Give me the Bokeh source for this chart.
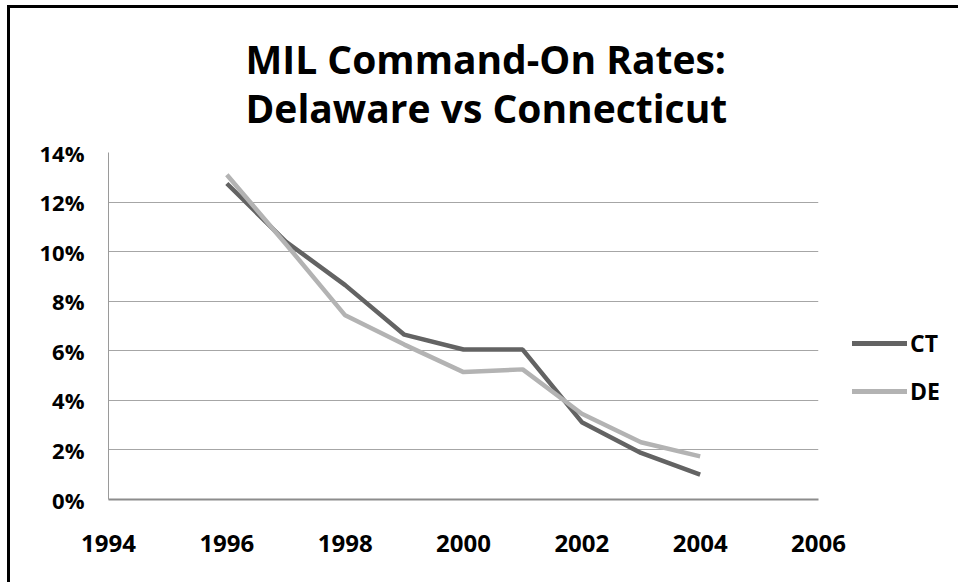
from bokeh.plotting import figure
from bokeh.layouts import row
from bokeh.models import (Range1d, FixedTicker, NumeralTickFormatter, Legend,
                          LegendItem, Title)
from bokeh.embed import file_html
from bokeh.resources import INLINE

# ---- data ----
years = [1996, 1997, 1998, 1999, 2000, 2001, 2002, 2003, 2004]
ct_rate = [0.1275, 0.1040, 0.0865, 0.0665, 0.0605, 0.0605, 0.0312, 0.0188, 0.0100]
de_rate = [0.1310, 0.1030, 0.0743, 0.0625, 0.0514, 0.0525, 0.0346, 0.0231, 0.0174]
x_ticks = [1994, 1996, 1998, 2000, 2002, 2004, 2006]
y_ticks = [0.0, 0.02, 0.04, 0.06, 0.08, 0.10, 0.12, 0.14]
title_text = "MIL Command-On Rates:\nDelaware vs Connecticut"
series_names = ["CT", "DE"]
series_values = [ct_rate, de_rate]
series_colors = ["#636363", "#b3b3b3"]

FONT = "Open Sans"

p = figure(width=838, height=574, output_backend="svg", toolbar_location=None,
           x_range=Range1d(1994, 2006), y_range=Range1d(0, 0.14),
           min_border_left=98, min_border_right=30, min_border_top=144,
           min_border_bottom=83)
p.outline_line_color = None
p.background_fill_color = "white"
p.border_fill_color = "white"

# axes
p.xaxis.ticker = FixedTicker(ticks=x_ticks)
p.yaxis.ticker = FixedTicker(ticks=y_ticks)
p.yaxis.formatter = NumeralTickFormatter(format="0%")
for ax in (p.xaxis, p.yaxis):
    ax.major_tick_line_color = None
    ax.minor_tick_line_color = None
    ax.major_label_text_font = FONT
    ax.major_label_text_font_style = "bold"
    ax.major_label_text_color = "black"
p.xaxis.major_label_text_font_size = "24px"
p.yaxis.major_label_text_font_size = "22px"
p.xaxis.axis_line_color = "#8c8c8c"
p.xaxis.axis_line_width = 2
p.xaxis.major_label_standoff = 29
p.yaxis.axis_line_color = "#9a9a9a"
p.yaxis.axis_line_width = 1
p.yaxis.major_label_standoff = 18

p.xgrid.grid_line_color = None
p.ygrid.grid_line_color = "#a6a6a6"
p.ygrid.grid_line_width = 1

# lines
for vals, col in zip(series_values, series_colors):
    p.line(years, vals, line_color=col, line_width=4.5)

p.add_layout(Title(text=title_text, align="left", offset=137,
                   text_font=FONT, text_font_style="bold",
                   text_font_size="39px", text_line_height=0.925,
                   text_color="black", standoff=36), "above")

# legend panel (a narrow companion figure to the right of the plot);
# its series lie outside its own ranges, so only the legend shows
lg = figure(width=110, height=574, output_backend="svg", toolbar_location=None,
            x_range=Range1d(0, 1), y_range=Range1d(0, 1),
            x_axis_location=None, y_axis_location=None,
            min_border=0, min_border_left=0, min_border_right=0,
            min_border_top=0, min_border_bottom=0)
lg.outline_line_color = None
lg.xgrid.grid_line_color = None
lg.ygrid.grid_line_color = None
proxies = [lg.line(years, vals, line_color=col, line_width=5, line_cap="round")
           for vals, col in zip(series_values, series_colors)]
legend = Legend(items=[LegendItem(label=n, renderers=[r])
                       for n, r in zip(series_names, proxies)],
                location=(4, 92), border_line_color=None,
                background_fill_alpha=0, padding=0, margin=0, spacing=16,
                glyph_width=55, glyph_height=20, label_height=20,
                label_standoff=3, label_text_color="black",
                label_text_font=FONT, label_text_font_style="bold",
                label_text_font_size="23px", label_text_baseline="middle")
lg.add_layout(legend, "center")

layout = row(p, lg, styles={"margin-left": "7px", "margin-top": "5px",
                            "border-left": "3px solid black",
                            "border-top": "3px solid black"})

open("out.html", "w").write(file_html(layout, INLINE))
